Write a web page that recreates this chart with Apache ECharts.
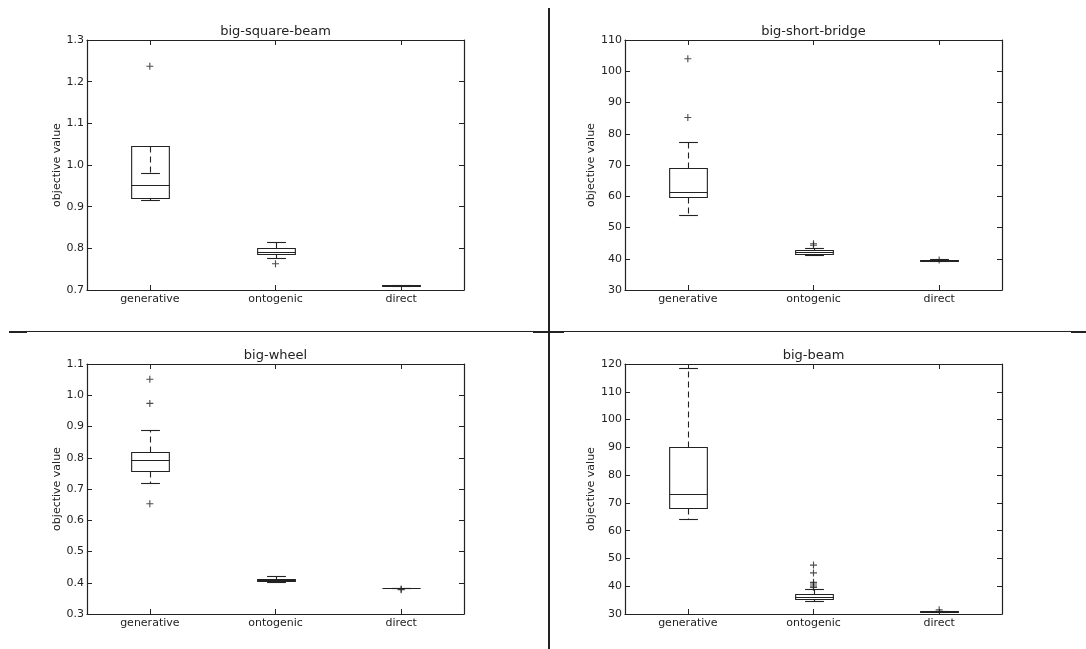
<!DOCTYPE html>
<html>
<head>
<meta charset="utf-8">
<title>objective value by encoding</title>
<script src="https://cdn.jsdelivr.net/npm/echarts@6/dist/echarts.min.js"></script>
<style>
  html, body { margin: 0; padding: 0; background: #fff; }
  #chart { width: 1086px; height: 649px; }
</style>
</head>
<body>
<div id="chart"></div>
<script>
// Encodings compared in every panel
const categories = ['generative', 'ontogenic', 'direct'];

// Box statistics per encoding: [lower whisker, Q1, median, Q3, upper whisker]
const squareBeamStats = [
  [0.915, 0.921, 0.953, 1.046, 0.982],
  [0.776, 0.786, 0.792, 0.800, 0.815],
  [0.710, 0.710, 0.711, 0.711, 0.711]
];
const squareBeamOutliers = [[0, 1.237], [1, 0.763]];

const shortBridgeStats = [
  [54.1, 59.9, 61.5, 69.0, 77.5],
  [41.2, 41.6, 42.1, 42.7, 43.5],
  [39.2, 39.3, 39.5, 39.7, 39.8]
];
const shortBridgeOutliers = [[0, 104.0], [0, 85.2], [1, 44.8], [1, 44.3], [2, 39.6]];

const wheelStats = [
  [0.718, 0.759, 0.792, 0.819, 0.889],
  [0.403, 0.406, 0.410, 0.413, 0.421],
  [0.382, 0.382, 0.382, 0.383, 0.383]
];
const wheelOutliers = [[0, 1.051], [0, 0.974], [0, 0.653], [2, 0.380], [2, 0.378]];

const beamStats = [
  [64.1, 68.1, 73.3, 90.1, 118.6],
  [34.8, 35.4, 36.3, 37.1, 39.0],
  [30.9, 30.9, 31.0, 31.1, 31.1]
];
const beamOutliers = [[1, 47.6], [1, 44.8], [1, 41.4], [1, 40.8], [1, 40.1], [1, 39.6], [2, 31.5]];

// Panel titles and y-axis ranges
const panelTitles = ['big-square-beam', 'big-short-bridge', 'big-wheel', 'big-beam'];
const yRanges = [
  { min: 0.7, max: 1.3, interval: 0.1, digits: 1 },
  { min: 30, max: 110, interval: 10, digits: 0 },
  { min: 0.3, max: 1.1, interval: 0.1, digits: 1 },
  { min: 30, max: 120, interval: 10, digits: 0 }
];
const yAxisName = 'objective value';

const panelStats = [squareBeamStats, shortBridgeStats, wheelStats, beamStats];
const panelOutliers = [squareBeamOutliers, shortBridgeOutliers, wheelOutliers, beamOutliers];

// Plot-area rectangles (pixels) for the 2x2 layout
const gridRects = [
  { left: 87, top: 40, width: 377, height: 250 },
  { left: 625, top: 40, width: 377, height: 250 },
  { left: 87, top: 364, width: 377, height: 250 },
  { left: 625, top: 364, width: 377, height: 250 }
];

const INK = '#222';
const FONT = 'DejaVu Sans';

// Matplotlib-style box: solid box and median, dashed whiskers, short solid caps
function renderBox(params, api) {
  const c = api.value(0);
  const lo = api.coord([c, api.value(1)]);
  const q1 = api.coord([c, api.value(2)]);
  const med = api.coord([c, api.value(3)]);
  const q3 = api.coord([c, api.value(4)]);
  const hi = api.coord([c, api.value(5)]);
  const band = api.size([1, 0])[0];
  const half = band * 0.15;
  const capHalf = band * 0.075;
  const x = Math.round(lo[0]) + 0.5;
  const solid = { stroke: INK, lineWidth: 1.1, fill: null };
  const dashed = { stroke: INK, lineWidth: 1.1, lineDash: [6, 4], fill: null };
  const r = v => Math.round(v) + 0.5;
  return {
    type: 'group',
    children: [
      { type: 'line', shape: { x1: x, y1: r(q3[1]), x2: x, y2: r(hi[1]) }, style: dashed },
      { type: 'line', shape: { x1: x, y1: r(q1[1]), x2: x, y2: r(lo[1]) }, style: dashed },
      { type: 'line', shape: { x1: x - capHalf, y1: r(hi[1]), x2: x + capHalf, y2: r(hi[1]) }, style: solid },
      { type: 'line', shape: { x1: x - capHalf, y1: r(lo[1]), x2: x + capHalf, y2: r(lo[1]) }, style: solid },
      { type: 'rect', shape: { x: x - half, y: r(q3[1]), width: half * 2, height: r(q1[1]) - r(q3[1]) }, style: solid },
      { type: 'line', shape: { x1: x - half, y1: r(med[1]), x2: x + half, y2: r(med[1]) }, style: solid }
    ]
  };
}

const plusSymbol = 'path://M4.2,0H5.8V4.2H10V5.8H5.8V10H4.2V5.8H0V4.2H4.2Z';

const option = {
  animation: false,
  backgroundColor: '#fff',
  textStyle: { fontFamily: FONT },
  title: [],
  grid: [],
  xAxis: [],
  yAxis: [],
  series: [],
  graphic: [
    // panel separators
    { type: 'rect', shape: { x: 548, y: 8, width: 2, height: 641 }, style: { fill: INK } },
    { type: 'rect', shape: { x: 9, y: 331, width: 1077, height: 1 }, style: { fill: INK } },
    { type: 'rect', shape: { x: 9, y: 331, width: 18, height: 2 }, style: { fill: INK } },
    { type: 'rect', shape: { x: 533, y: 331, width: 31, height: 2 }, style: { fill: INK } },
    { type: 'rect', shape: { x: 1071, y: 331, width: 15, height: 2 }, style: { fill: INK } }
  ]
};

panelTitles.forEach((name, i) => {
  const g = gridRects[i];
  const yr = yRanges[i];
  option.title.push({
    text: name,
    left: g.left + g.width / 2,
    top: g.top - 15,
    textAlign: 'center',
    padding: 0,
    textStyle: { fontFamily: FONT, fontSize: 13, fontWeight: 'normal', color: INK }
  });
  option.grid.push({ left: g.left, top: g.top, width: g.width, height: g.height, containLabel: false });

  const axisLine = { show: true, lineStyle: { color: INK, width: 1.2 } };
  const tick = { show: true, inside: true, length: 5, lineStyle: { color: INK, width: 1 } };

  option.xAxis.push({
    type: 'category', gridIndex: i, position: 'bottom', data: categories,
    boundaryGap: true,
    axisLine, axisTick: Object.assign({ alignWithLabel: true }, tick),
    axisLabel: { color: INK, fontSize: 11, fontFamily: FONT, margin: 4 },
    splitLine: { show: false }
  });
  option.xAxis.push({
    type: 'category', gridIndex: i, position: 'top', data: categories,
    boundaryGap: true,
    axisLine, axisTick: Object.assign({ alignWithLabel: true }, tick),
    axisLabel: { show: false }, splitLine: { show: false }
  });
  option.yAxis.push({
    type: 'value', gridIndex: i, position: 'left',
    min: yr.min, max: yr.max, interval: yr.interval,
    name: yAxisName, nameLocation: 'middle', nameGap: 24, nameRotate: 90,
    nameTextStyle: { color: INK, fontSize: 11, fontFamily: FONT },
    axisLine, axisTick: tick,
    axisLabel: { color: INK, fontSize: 11, fontFamily: FONT, margin: 3,
      formatter: v => Number(v).toFixed(yr.digits) },
    splitLine: { show: false }
  });
  option.yAxis.push({
    type: 'value', gridIndex: i, position: 'right',
    min: yr.min, max: yr.max, interval: yr.interval,
    axisLine, axisTick: tick,
    axisLabel: { show: false }, splitLine: { show: false }
  });

  option.series.push({
    type: 'custom',
    xAxisIndex: 2 * i, yAxisIndex: 2 * i,
    renderItem: renderBox,
    encode: { x: 0, y: [1, 2, 3, 4, 5] },
    data: panelStats[i].map((s, k) => [k].concat(s)),
    z: 3
  });
  option.series.push({
    type: 'scatter',
    xAxisIndex: 2 * i, yAxisIndex: 2 * i,
    symbol: plusSymbol, symbolSize: 7,
    itemStyle: { color: INK },
    data: panelOutliers[i],
    z: 4
  });
});

const chart = echarts.init(document.getElementById('chart'), null, { renderer: 'canvas' });
chart.setOption(option);
</script>
</body>
</html>
